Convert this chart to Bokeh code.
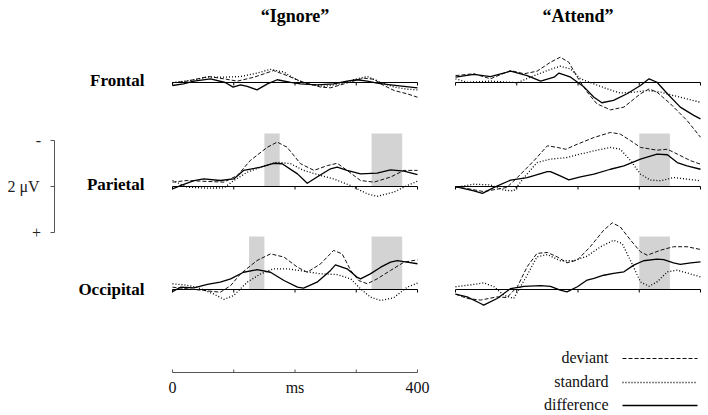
from bokeh.plotting import figure
from bokeh.models import Range1d
from bokeh.core.properties import value
from bokeh.embed import file_html
from bokeh.resources import INLINE

# ---------------- data (time in ms, amplitude in µV, negative plotted up) ----------------
conditions = ["“Ignore”", "“Attend”"]
sites = ["Frontal", "Parietal", "Occipital"]
series = ["deviant", "standard", "difference"]
axis_ticks = [0, 100, 200, 300, 400]
axis_labels = {0: "0", 200: "ms", 400: "400"}

# Frontal, Ignore
f_ign_dev_t = [0, 24, 59, 84, 106, 133, 165, 187, 214, 242, 258, 280, 312, 329, 340, 362, 383, 400]
f_ign_dev_v = [0.01, -0.06, -0.26, -0.16, -0.06, -0.23, -0.52, -0.30, -0.01, 0.20, 0.23, 0.06, -0.19, -0.14, 0.06, 0.35, 0.49, 0.64]
f_ign_std_t = [0, 29, 57, 84, 111, 133, 160, 182, 204, 220, 247, 274, 301, 318, 340, 362, 383, 400]
f_ign_std_v = [0.01, -0.09, -0.23, -0.23, -0.26, -0.38, -0.57, -0.45, -0.09, 0.06, 0.17, 0.06, -0.16, -0.26, -0.01, 0.20, 0.29, 0.32]
f_ign_dif_t = [0, 18, 35, 62, 86, 99, 111, 122, 138, 155, 171, 193, 209, 236, 263, 285, 301, 318, 334, 356, 378, 400]
f_ign_dif_v = [0.13, 0.06, -0.06, -0.16, 0.0, 0.20, 0.10, 0.17, 0.32, 0.06, -0.12, -0.01, 0.06, 0.10, 0.06, -0.06, -0.12, -0.06, 0.03, 0.10, 0.17, 0.23]

# Frontal, Attend
f_att_dev_t = [0, 30, 57, 90, 112, 133, 155, 171, 185, 199, 215, 231, 253, 275, 302, 316, 329, 351, 378, 400]
f_att_dev_v = [-0.30, -0.38, -0.16, -0.52, -0.38, -0.49, -0.88, -1.10, -0.88, -0.23, 0.42, 0.93, 1.19, 1.07, 0.49, 0.28, 0.42, 0.93, 1.65, 2.38]
f_att_std_t = [0, 19, 57, 101, 122, 150, 171, 188, 204, 226, 248, 269, 291, 313, 335, 356, 378, 400]
f_att_std_v = [-0.16, -0.01, -0.06, 0.01, -0.23, -0.52, -0.71, -0.59, -0.16, 0.06, 0.28, 0.46, 0.42, 0.35, 0.42, 0.57, 0.71, 0.86]
f_att_dif_t = [0, 30, 57, 90, 117, 139, 161, 169, 188, 210, 226, 239, 258, 280, 302, 316, 329, 346, 367, 389, 400]
f_att_dif_v = [-0.23, -0.35, -0.26, -0.49, -0.30, -0.06, -0.23, -0.41, -0.23, 0.20, 0.64, 0.88, 0.78, 0.49, 0.13, -0.16, -0.01, 0.49, 1.07, 1.43, 1.58]

# Parietal, Ignore
p_ign_dev_t = [0, 24, 57, 84, 106, 127, 155, 171, 187, 209, 231, 253, 269, 285, 307, 329, 356, 378, 400]
p_ign_dev_v = [-0.19, -0.26, -0.22, -0.19, -0.48, -1.13, -1.71, -1.93, -1.71, -0.99, -0.70, -0.91, -1.01, -0.70, -0.26, -0.19, -0.41, -0.70, -0.70]
p_ign_std_t = [0, 24, 57, 84, 100, 122, 144, 171, 193, 214, 242, 263, 291, 318, 334, 361, 383, 400]
p_ign_std_v = [-0.26, 0.03, 0.07, 0.06, -0.26, -0.62, -0.84, -1.06, -0.99, -0.70, -0.48, -0.33, -0.04, 0.32, 0.43, 0.25, -0.04, -0.23]
p_ign_dif_t = [0, 13, 35, 51, 78, 100, 116, 144, 165, 179, 204, 220, 236, 258, 269, 285, 307, 334, 356, 378, 400]
p_ign_dif_v = [0.10, -0.04, -0.26, -0.33, -0.26, -0.33, -0.70, -0.84, -1.01, -0.99, -0.55, -0.14, -0.41, -0.77, -0.84, -0.70, -0.55, -0.58, -0.72, -0.67, -0.52]

# Parietal, Attend
p_att_dev_t = [0, 19, 46, 84, 101, 128, 150, 166, 180, 199, 226, 253, 269, 286, 302, 329, 346, 362, 384, 400]
p_att_dev_v = [0.01, 0.09, 0.22, 0.04, -0.39, -1.12, -1.77, -1.70, -1.62, -1.84, -2.13, -2.35, -2.28, -1.99, -1.70, -1.58, -1.62, -1.41, -1.12, -0.97]
p_att_std_t = [0, 30, 57, 79, 95, 112, 133, 155, 182, 204, 226, 253, 269, 286, 302, 318, 335, 356, 378, 400]
p_att_std_v = [0.04, -0.10, -0.07, 0.16, 0.19, -0.39, -1.04, -1.19, -1.26, -1.41, -1.55, -1.70, -1.62, -1.12, -0.54, -0.28, -0.25, -0.39, -0.32, -0.25]
p_att_dif_t = [0, 30, 44, 63, 90, 117, 150, 155, 171, 185, 204, 226, 253, 275, 302, 329, 346, 362, 378, 400]
p_att_dif_v = [0.01, 0.19, 0.30, 0.04, -0.28, -0.39, -0.65, -0.65, -0.46, -0.29, -0.42, -0.54, -0.75, -0.90, -1.19, -1.41, -1.38, -1.04, -0.90, -0.75]

# Occipital, Ignore
o_ign_dev_t = [0, 24, 51, 78, 95, 111, 138, 160, 182, 204, 220, 242, 263, 277, 291, 304, 318, 334, 356, 378, 400]
o_ign_dev_v = [-0.10, -0.03, 0.04, 0.12, -0.17, -0.68, -1.26, -1.55, -1.41, -0.97, -0.75, -1.12, -1.70, -1.55, -0.83, -0.39, -0.25, -0.46, -0.83, -1.19, -1.29]
o_ign_std_t = [0, 19, 40, 67, 84, 100, 122, 144, 165, 187, 214, 242, 269, 291, 307, 323, 340, 361, 383, 400]
o_ign_std_v = [-0.25, -0.20, -0.10, 0.19, 0.43, 0.26, -0.32, -0.68, -0.90, -0.90, -0.80, -0.68, -0.65, -0.46, -0.03, 0.33, 0.48, 0.36, -0.10, -0.28]
o_ign_dif_t = [0, 13, 35, 57, 78, 95, 116, 138, 160, 182, 204, 214, 236, 258, 266, 285, 301, 307, 323, 340, 356, 367, 383, 400]
o_ign_dif_v = [0.09, -0.10, -0.07, -0.22, -0.32, -0.46, -0.75, -0.86, -0.75, -0.39, -0.10, -0.06, -0.32, -0.83, -1.07, -0.90, -0.54, -0.46, -0.68, -0.97, -1.19, -1.26, -1.19, -1.12]

# Occipital, Attend
o_att_dev_t = [0, 19, 41, 68, 84, 101, 117, 133, 150, 166, 182, 199, 220, 242, 256, 269, 286, 302, 313, 335, 356, 378, 400]
o_att_dev_v = [0.20, 0.39, 0.46, 0.32, 0.35, -0.12, -0.99, -1.57, -1.61, -1.42, -1.16, -1.28, -1.86, -2.58, -2.90, -2.72, -2.14, -1.64, -1.49, -1.71, -1.86, -1.86, -1.74]
o_att_std_t = [0, 30, 46, 63, 79, 95, 117, 133, 150, 171, 193, 215, 237, 258, 272, 288, 302, 316, 329, 346, 362, 378, 400]
o_att_std_v = [-0.12, -0.22, -0.29, -0.12, 0.25, 0.39, -0.62, -1.42, -1.52, -1.25, -1.25, -1.45, -1.86, -2.14, -2.00, -1.13, -0.33, -0.14, -0.33, -0.77, -0.84, -0.72, -0.55]
o_att_dif_t = [0, 19, 41, 46, 68, 90, 112, 139, 155, 171, 182, 199, 215, 226, 242, 258, 275, 291, 307, 329, 340, 356, 367, 384, 400]
o_att_dif_v = [0.20, 0.32, 0.61, 0.68, 0.39, -0.04, -0.14, -0.17, -0.14, 0.03, 0.10, -0.12, -0.41, -0.48, -0.62, -0.70, -0.77, -1.06, -1.25, -1.32, -1.30, -1.16, -1.09, -1.16, -1.20]

# Shaded analysis windows (ms) and their height (µV)
win_p_ign = [(150, 175), (325, 375)]
win_p_att = [(300, 350)]
win_o_ign = [(125, 150), (325, 375)]
win_o_att = [(300, 350)]
win_height = -2.3

curves = {
    ("Frontal", 0): [(f_ign_dev_t, f_ign_dev_v), (f_ign_std_t, f_ign_std_v), (f_ign_dif_t, f_ign_dif_v)],
    ("Frontal", 1): [(f_att_dev_t, f_att_dev_v), (f_att_std_t, f_att_std_v), (f_att_dif_t, f_att_dif_v)],
    ("Parietal", 0): [(p_ign_dev_t, p_ign_dev_v), (p_ign_std_t, p_ign_std_v), (p_ign_dif_t, p_ign_dif_v)],
    ("Parietal", 1): [(p_att_dev_t, p_att_dev_v), (p_att_std_t, p_att_std_v), (p_att_dif_t, p_att_dif_v)],
    ("Occipital", 0): [(o_ign_dev_t, o_ign_dev_v), (o_ign_std_t, o_ign_std_v), (o_ign_dif_t, o_ign_dif_v)],
    ("Occipital", 1): [(o_att_dev_t, o_att_dev_v), (o_att_std_t, o_att_std_v), (o_att_dif_t, o_att_dif_v)],
}
windows = {("Parietal", 0): win_p_ign, ("Parietal", 1): win_p_att,
           ("Occipital", 0): win_o_ign, ("Occipital", 1): win_o_att}

# ---------------- layout ----------------
W, H = 708, 415
ORIGIN = 0
col_x0 = [172, 455]          # page px of t = 0 for each column
row_base = {"Frontal": 82, "Parietal": 186, "Occipital": 289}   # page px of 0 µV
PX_PER_MS = 245 / 400
PX_PER_UV = 23

FONT = value("Liberation Serif")
styles = [dict(line_dash="4 2", line_width=1.0, line_color="#111111"),
          dict(line_dash="1 2", line_width=1.3, line_color="#000000"),
          dict(line_dash="solid", line_width=1.3, line_color="#000000")]

p = figure(width=W, height=H, x_range=Range1d(ORIGIN, ORIGIN + W), y_range=Range1d(ORIGIN + H, ORIGIN),
           output_backend="svg", toolbar_location=None, min_border=0,
           x_axis_location=None, y_axis_location=None)
p.grid.visible = False
p.outline_line_color = None
p.background_fill_color = "white"
p.border_fill_color = "white"

col_names = ["ignore", "attend"]
for name, x0 in zip(col_names, col_x0):
    s = -(x0 - ORIGIN) / PX_PER_MS
    p.extra_x_ranges[name] = Range1d(s, s + W / PX_PER_MS)
for site, base in row_base.items():
    e = -(base - ORIGIN) / PX_PER_UV
    p.extra_y_ranges[site] = Range1d(e + H / PX_PER_UV, e)

tick_len = 3 / PX_PER_UV

for (site, ci), cs in curves.items():
    xr, yr = col_names[ci], site
    for (a, b) in windows.get((site, ci), []):
        p.quad(left=[a], right=[b], bottom=[0], top=[win_height], fill_color="#d3d3d3",
               line_color=None, x_range_name=xr, y_range_name=yr)
    p.segment(x0=[axis_ticks[0]], x1=[axis_ticks[-1]], y0=[0], y1=[0], line_color="#000000",
              line_width=1, x_range_name=xr, y_range_name=yr)
    p.segment(x0=axis_ticks, x1=axis_ticks, y0=[0] * len(axis_ticks), y1=[tick_len] * len(axis_ticks),
              line_color="#000000", line_width=1, x_range_name=xr, y_range_name=yr)
    for (t, v), st in zip(cs, styles):
        p.line(t, v, x_range_name=xr, y_range_name=yr, line_join="round", **st)

# titles
for name, label in zip(col_names, conditions):
    p.text(x=[200], y=[15], text=[label], x_range_name=name, text_font=FONT, text_font_size="18px",
           text_font_style="bold", text_align="center", text_baseline="middle", text_color="#000000")

# row labels
for site, base in row_base.items():
    p.text(x=[144], y=[base - 2 if site != "Occipital" else base], text=[site], text_font=FONT,
           text_font_size="17px", text_font_style="bold", text_align="right", text_baseline="middle",
           text_color="#000000")

# scale bar (±2 µV) on the Parietal row
bar_x = 54
p.segment(x0=[bar_x], x1=[bar_x], y0=[-2], y1=[2], line_color="#555555", line_width=1,
          y_range_name="Parietal")
p.segment(x0=[bar_x - 4] * 3, x1=[bar_x] * 3, y0=[-2, 0, 2], y1=[-2, 0, 2], line_color="#555555",
          line_width=1, y_range_name="Parietal")
p.text(x=[38, 23, 36], y=[-2, 0, 2], text=["-", "2 μV", "+"], y_range_name="Parietal", text_font=FONT,
       text_font_size="16px", text_align="center", text_baseline="middle", text_color="#222222")

# bottom time axis
axis_y = 372
p.segment(x0=[axis_ticks[0]], x1=[axis_ticks[-1]], y0=[axis_y], y1=[axis_y], line_color="#555555",
          line_width=1, x_range_name="ignore")
p.segment(x0=axis_ticks, x1=axis_ticks, y0=[axis_y] * len(axis_ticks), y1=[axis_y - 3] * len(axis_ticks),
          line_color="#555555", line_width=1, x_range_name="ignore")
p.text(x=list(axis_labels.keys()), y=[387] * len(axis_labels), text=list(axis_labels.values()),
       x_range_name="ignore", text_font=FONT, text_font_size="16px", text_align="center",
       text_baseline="middle", text_color="#111111")

# legend
leg_y = [357, 381, 404]
for lab, yy, st in zip(series, leg_y, styles):
    p.text(x=[608], y=[yy], text=[lab], text_font=FONT, text_font_size="16px", text_align="right",
           text_baseline="middle", text_color="#111111")
    p.line([622, 697], [yy + 1, yy + 1], **st)

open("out.html", "w").write(file_html(p, INLINE))
